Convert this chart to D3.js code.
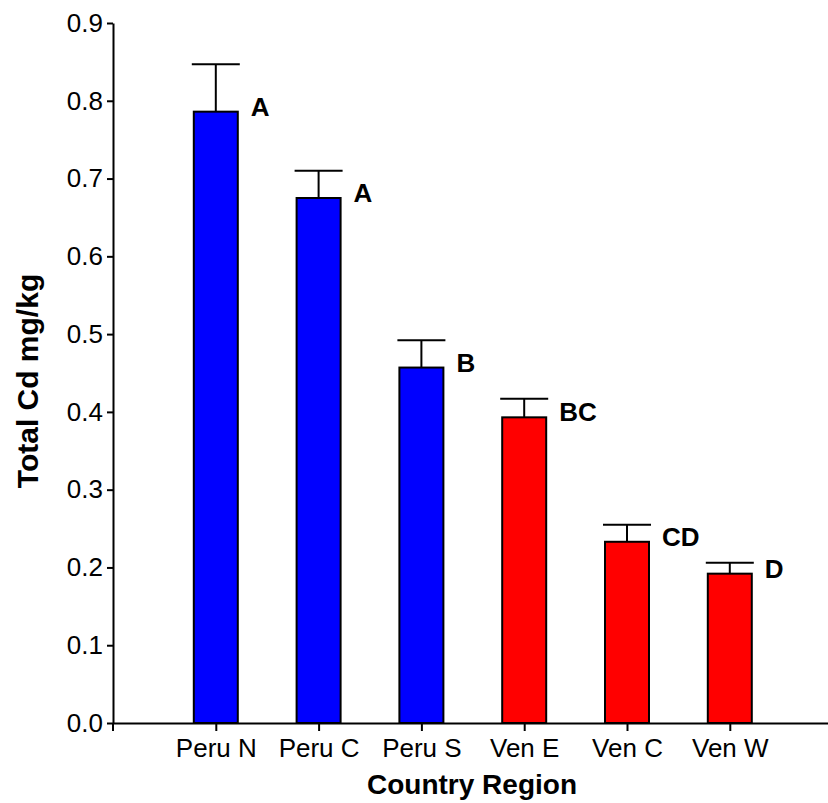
<!DOCTYPE html>
<html>
<head>
    <meta charset="utf-8">
    <title>Total Cd by Country Region</title>
    <style>
        body { margin: 0; background: #fff; }
        svg { display: block; font-family: "Liberation Sans", Arial, sans-serif; }
    </style>
</head>
<body>
    <svg width="828" height="803"></svg>

    <script src="https://cdn.jsdelivr.net/npm/d3@7"></script>
    <script>

    // data
    var regions = ["Peru N", "Peru C", "Peru S", "Ven E", "Ven C", "Ven W"],
        countries = ["Peru", "Peru", "Peru", "Ven", "Ven", "Ven"],
        means = [0.786, 0.675, 0.457, 0.393, 0.233, 0.192],
        errors = [0.061, 0.035, 0.035, 0.024, 0.022, 0.014],
        letters = ["A", "A", "B", "BC", "CD", "D"],
        yTicks = [0, 0.1, 0.2, 0.3, 0.4, 0.5, 0.6, 0.7, 0.8, 0.9];

    var svg = d3.select("svg"),
        plotLeft = 113,
        plotTop = 23,
        plotBottom = 723,
        plotRight = 832.6;

    var x = d3.scalePoint().domain(regions).range([plotLeft, plotRight]).padding(1),
        y = d3.scaleLinear().domain([0, 0.9]).range([plotBottom, plotTop]),
        color = d3.scaleOrdinal().domain(["Peru", "Ven"]).range(["#0000ff", "#ff0000"]),
        barWidth = 44,
        capWidth = 48;

    var rows = regions.map(function(r, i) {
        return { region: r, country: countries[i], mean: means[i], se: errors[i], letter: letters[i] };
    });

    // error whiskers (upper only)
    var err = svg.append("g")
        .attr("stroke", "#000")
        .attr("stroke-width", 2);

    err.selectAll("line.stem")
        .data(rows)
        .enter().append("line")
        .attr("class", "stem")
        .attr("x1", function(d) { return x(d.region); })
        .attr("x2", function(d) { return x(d.region); })
        .attr("y1", function(d) { return y(d.mean); })
        .attr("y2", function(d) { return y(d.mean + d.se); });

    err.selectAll("line.cap")
        .data(rows)
        .enter().append("line")
        .attr("class", "cap")
        .attr("x1", function(d) { return x(d.region) - capWidth / 2; })
        .attr("x2", function(d) { return x(d.region) + capWidth / 2; })
        .attr("y1", function(d) { return y(d.mean + d.se); })
        .attr("y2", function(d) { return y(d.mean + d.se); });

    svg.append("g")
        .selectAll("rect")
        .data(rows)
        .enter().append("rect")
        .attr("x", function(d) { return x(d.region) - barWidth / 2; })
        .attr("y", function(d) { return y(d.mean); })
        .attr("width", barWidth)
        .attr("height", function(d) { return y(0) - y(d.mean); })
        .attr("fill", function(d) { return color(d.country); })
        .attr("stroke", "#000")
        .attr("stroke-width", 2);

    // significance letters
    svg.append("g")
        .selectAll("text")
        .data(rows)
        .enter().append("text")
        .attr("x", function(d) { return x(d.region) + 35; })
        .attr("y", function(d) { return y(d.mean) + 4; })
        .attr("font-size", 26)
        .attr("font-weight", "bold")
        .text(function(d) { return d.letter; });

    // axes
    var yAxis = d3.axisLeft(y)
        .tickValues(yTicks)
        .tickFormat(d3.format(".1f"))
        .tickSize(6)
        .tickPadding(4)
        .tickSizeOuter(0);

    var xAxis = d3.axisBottom(x)
        .tickSize(8)
        .tickPadding(8)
        .tickSizeOuter(0);

    var gx = svg.append("g")
        .attr("transform", "translate(0," + plotBottom + ")")
        .call(xAxis);

    var gy = svg.append("g")
        .attr("transform", "translate(" + plotLeft + ",0)")
        .call(yAxis);

    // y axis line runs a little below the x axis
    gy.append("line")
        .attr("x1", 0).attr("x2", 0)
        .attr("y1", plotBottom).attr("y2", plotBottom + 8)
        .attr("stroke", "#000")
        .attr("stroke-width", 2);

    svg.selectAll(".domain, .tick line")
        .attr("stroke", "#000")
        .attr("stroke-width", 2);

    svg.selectAll(".tick text")
        .attr("fill", "#000")
        .attr("font-family", "'Liberation Sans', Arial, sans-serif")
        .attr("font-size", 26);

    svg.append("text")
        .attr("x", 472)
        .attr("y", 794)
        .attr("text-anchor", "middle")
        .attr("font-size", 28)
        .attr("font-weight", "bold")
        .text("Country Region");

    svg.append("text")
        .attr("transform", "translate(38,381) rotate(-90)")
        .attr("text-anchor", "middle")
        .attr("font-size", 30)
        .attr("font-weight", "bold")
        .text("Total Cd mg/kg");

    </script>
</body>
</html>
